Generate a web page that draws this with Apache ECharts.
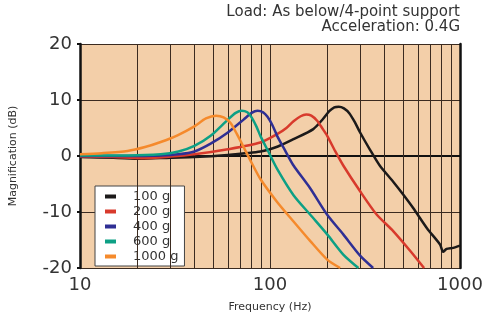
<!DOCTYPE html>
<html>
<head>
<meta charset="utf-8">
<script src="https://cdn.jsdelivr.net/npm/echarts@6/dist/echarts.min.js"></script>
<style>
  html, body { margin: 0; padding: 0; background: #fff; }
  #chart { width: 492px; height: 318px; }
</style>
</head>
<body>
<div id="chart"></div>
<script>
// curves: [frequency Hz, magnification dB]
const load100 = [[10, -0.2], [15, -0.3], [21, -0.5], [30, -0.3], [40, -0.2], [60, 0.2], [89, 0.8], [110, 1.7], [133, 3.0], [169, 4.8], [190, 6.6], [205, 8.0], [218, 8.7], [230, 8.8], [245, 8.5], [262, 7.6], [280, 6.0], [298, 4.2], [335, 1.2], [378, -1.7], [445, -4.6], [500, -6.8], [567, -9.3], [670, -12.9], [785, -15.8], [815, -17.1], [850, -16.6], [920, -16.4], [1000, -16.0]];
const load200 = [[10, -0.1], [15, -0.2], [21, -0.4], [30, -0.1], [40, 0.3], [60, 1.2], [89, 2.4], [109, 3.9], [122, 5.0], [133, 6.2], [145, 7.1], [155, 7.4], [165, 7.2], [177, 6.3], [188, 5.0], [200, 3.6], [220, 0.9], [243, -1.7], [298, -6.3], [365, -10.5], [445, -13.4], [549, -17.0], [647, -20]];
const load400 = [[10, 0], [18, 0], [26.6, 0.1], [33, 0.3], [40, 0.8], [48.7, 2.2], [60, 4.2], [72.6, 6.5], [80, 7.7], [86, 8.1], [92, 7.8], [97, 7.0], [103, 5.5], [109, 3.6], [120, 1.0], [133, -1.7], [163, -5.8], [200, -10.5], [243, -14.0], [298, -17.8], [349, -20]];
const load600 = [[10, 0.1], [18, 0.1], [26.6, 0.3], [33, 0.8], [40, 1.8], [48.7, 3.6], [60, 6.5], [66, 7.7], [71, 8.1], [76, 7.8], [80, 6.9], [85, 5.2], [89, 3.6], [98, 0.8], [109, -2.3], [133, -7.0], [163, -10.5], [200, -14.0], [243, -17.6], [292, -20]];
const load1000 = [[10, 0.3], [13, 0.5], [17.8, 0.9], [22, 1.6], [26.6, 2.5], [32.6, 3.7], [40, 5.3], [46, 6.7], [52, 7.2], [57, 6.9], [62, 5.9], [67, 3.9], [72.6, 1.6], [80, -1.2], [89, -4.1], [109, -8.2], [133, -11.7], [163, -15.2], [200, -18.5], [234, -20]];

const seriesNames = ['100 g', '200 g', '400 g', '600 g', '1000 g'];
const seriesData = [load100, load200, load400, load600, load1000];
const seriesColors = ['#1c1a1a', '#d83a2c', '#2f2f94', '#0da085', '#f58a2c'];

const minorFreqs = [20, 30, 40, 50, 60, 70, 80, 90, 200, 300, 400, 500, 600, 700, 800, 900];
const titleLines = ['Load: As below/4-point support', 'Acceleration: 0.4G'];

const myChart = echarts.init(document.getElementById('chart'));
const font = 'DejaVu Sans';

const series = seriesNames.map((name, i) => ({
  name: name,
  type: 'line',
  data: seriesData[i],
  smooth: 0.25,
  showSymbol: false,
  z: 5,
  lineStyle: { color: seriesColors[i], width: 2.5 },
  itemStyle: { color: seriesColors[i] }
}));

// minor decade gridlines
series[0].markLine = {
  silent: true,
  symbol: 'none',
  label: { show: false },
  lineStyle: { color: '#3b2b20', width: 1, type: 'solid' },
  data: minorFreqs.map(f => ({ xAxis: f }))
};

const titleStyle = { fontFamily: font, fontSize: 15, fontWeight: 'normal', color: '#333' };

const option = {
  animation: false,
  title: titleLines.map((t, i) => ({
    text: t,
    right: 32,
    top: 5 + i * 15,
    padding: 0,
    textStyle: titleStyle
  })),
  grid: {
    left: 79, right: 32, top: 44, bottom: 47,
    show: true,
    backgroundColor: '#f3cfa9',
    borderWidth: 0
  },
  legend: {
    data: seriesNames,
    orient: 'vertical',
    left: 95,
    top: 186,
    backgroundColor: '#fff',
    borderColor: '#444',
    borderWidth: 1,
    padding: [4, 6, 3, 10],
    itemGap: 2,
    itemWidth: 11,
    itemHeight: 4,
    icon: 'rect',
    textStyle: { fontFamily: font, fontSize: 13, color: '#333', padding: [0, 0, 0, 12] }
  },
  xAxis: {
    type: 'log',
    logBase: 10,
    min: 10,
    max: 1000,
    name: 'Frequency (Hz)',
    nameLocation: 'middle',
    nameGap: 34,
    nameTextStyle: { fontFamily: font, fontSize: 11, color: '#333' },
    axisLine: { lineStyle: { color: '#111', width: 2 } },
    axisTick: { show: false },
    axisLabel: { fontFamily: font, fontSize: 18, color: '#333', margin: 8, formatter: v => String(v) },
    splitLine: { show: true, lineStyle: { color: '#3b2b20', width: 1 } }
  },
  yAxis: [{
    type: 'value',
    min: -20,
    max: 20,
    interval: 10,
    name: 'Magnification (dB)',
    nameLocation: 'middle',
    nameGap: 61,
    nameTextStyle: { fontFamily: font, fontSize: 11, color: '#333' },
    axisLine: { show: true, lineStyle: { color: '#111', width: 2.5 } },
    axisTick: { show: true, length: 3, lineStyle: { color: '#111', width: 2 } },
    axisLabel: { fontFamily: font, fontSize: 18, color: '#333', margin: 8 },
    splitLine: { show: true, lineStyle: { color: '#3b2b20', width: 1 } }
  }, {
    type: 'value',
    position: 'right',
    min: -20,
    max: 20,
    interval: 10,
    axisLine: { show: true, lineStyle: { color: '#111', width: 2.5 } },
    axisTick: { show: false },
    axisLabel: { show: false },
    splitLine: { show: false }
  }],
  series: series
};

myChart.setOption(option);
</script>
</body>
</html>
